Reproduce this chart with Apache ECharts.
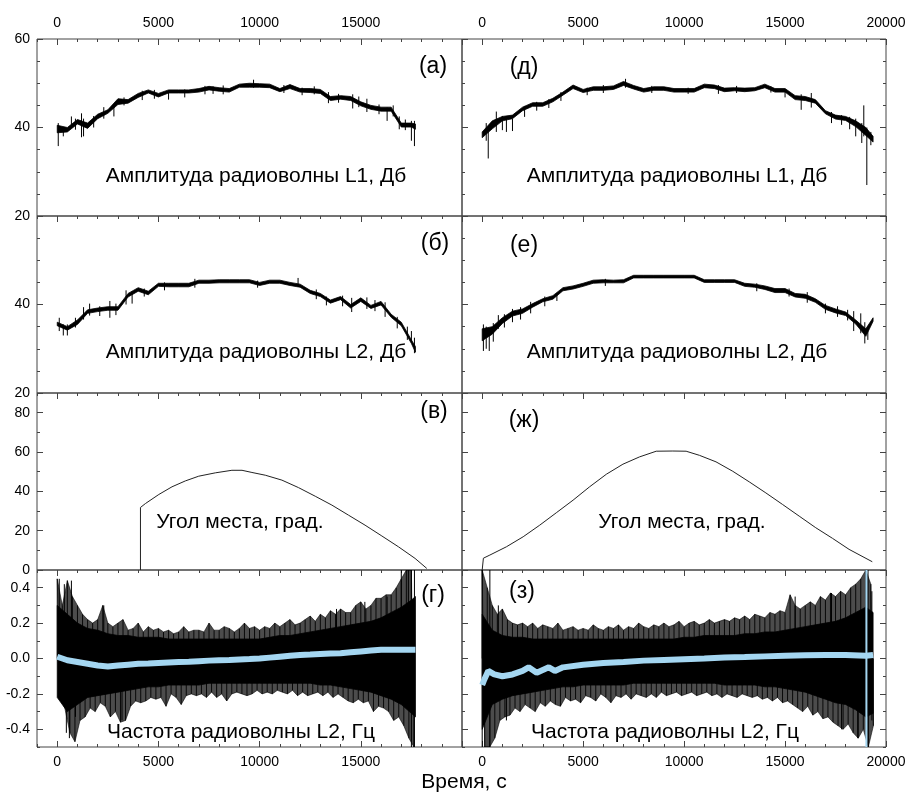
<!DOCTYPE html>
<html>
<head>
<meta charset="utf-8">
<script src="https://cdn.jsdelivr.net/npm/echarts@6/dist/echarts.min.js"></script>
<style>
  html, body { margin: 0; background: #fff; }
  #chart { width: 909px; height: 794px; }
</style>
</head>
<body>
<div id="chart"></div>
<script>
// time samples (s)
const tL = [0, 500, 1000, 1500, 2000, 2500, 3000, 3500, 4000, 4500, 5000, 5500, 6000, 6500, 7000, 7500, 8000, 8500,
  9000, 9500, 10000, 10500, 11000, 11500, 12000, 12500, 13000, 13500, 14000, 14500, 15000, 15500, 16000, 16500,
  17000, 17500, 17700];
const tR = [0, 500, 1000, 1500, 2000, 2500, 3000, 3500, 4000, 4500, 5000, 5500, 6000, 6500, 7000, 7500, 8000, 8500,
  9000, 9500, 10000, 10500, 11000, 11500, 12000, 12500, 13000, 13500, 14000, 14500, 15000, 15500, 16000, 16500,
  17000, 17500, 18000, 18500, 19000, 19360];
// finer samples for the noise of the frequency panels
const tNoiseL = [0, 250, 500, 750, 1000, 1250, 1500, 1750, 2000, 2250, 2500, 2750, 3000, 3250, 3500, 3750, 4000, 4250,
  4500, 4750, 5000, 5250, 5500, 5750, 6000, 6250, 6500, 6750, 7000, 7250, 7500, 7750, 8000, 8250, 8500, 8750, 9000,
  9250, 9500, 9750, 10000, 10250, 10500, 10750, 11000, 11250, 11500, 11750, 12000, 12250, 12500, 12750, 13000, 13250,
  13500, 13750, 14000, 14250, 14500, 14750, 15000, 15250, 15500, 15750, 16000, 16250, 16500, 16750, 17000, 17250, 17500];
const tNoiseR = tNoiseL.concat([17750, 18000, 18250, 18500, 18750, 19000, 19250]);

// (а) amplitude L1, left
const ampAHi = [40.5, 40, 41.8, 41, 43, 44, 46.5, 46.3, 47.7, 48.5, 47.7, 48.5, 48.5, 48.5, 48.8, 49.3, 49, 48.8, 49.8, 50,
  49.9, 49.8, 48.8, 49.7, 48.8, 48.8, 48.6, 47, 47.2, 47, 45.8, 45, 44.6, 44.6, 41, 41, 40.8];
const ampALo = [38.8, 39, 40.8, 39.8, 42, 43.2, 45.2, 45.5, 46.8, 47.8, 46.9, 47.8, 47.8, 47.8, 48, 48.5, 48.2, 48, 49.1, 49.1,
  49.1, 49, 48.1, 48.8, 48, 47.9, 47.7, 46.1, 46.4, 46.1, 44.9, 44.1, 43.7, 43.7, 40.1, 40.1, 39.6];
const spikesA = [[50, 35.8, 41], [300, 38, 40], [700, 40, 42.5], [900, 39.5, 42], [1200, 37.8, 43.2], [1300, 38, 42],
  [1800, 40, 42.6], [2300, 42, 44.6], [2800, 42.5, 45], [3300, 45, 46.8], [4200, 46.2, 48.3], [4800, 46.5, 48.5],
  [5500, 46.3, 48], [6300, 46.8, 48.6], [7300, 47.5, 49.4], [7700, 47.6, 49.3], [8200, 47.5, 49.5], [9700, 49, 50.8],
  [11200, 47.8, 49.6], [12100, 47.3, 49], [12700, 47.5, 49.3], [13400, 45.5, 48], [13900, 45.6, 47.6],
  [14600, 44.3, 47.5], [14900, 44.6, 47], [15300, 43.5, 46.5], [15900, 43, 45.2], [16300, 41.5, 44.5],
  [16600, 42.5, 45], [16900, 39.6, 42.5], [17200, 39.4, 41.8], [17500, 37, 41.5], [17650, 35.8, 41.5]];

// (б) amplitude L2, left
const ampBHi = [36, 35, 36.5, 38.8, 39.2, 39.5, 39.5, 42.5, 43.8, 43, 44.8, 44.8, 44.8, 44.8, 45.5, 45.5, 45.6, 45.6, 45.6, 45.6,
  45, 45.5, 45.5, 45, 44.6, 43.2, 42.5, 41, 41.8, 40, 41.5, 39.8, 40.7, 37.8, 36, 32, 30.5];
const ampBLo = [35.2, 34.2, 35.5, 38, 38.4, 38.7, 38.7, 41.7, 43, 42.2, 44.1, 44, 44, 44, 44.8, 44.8, 44.9, 44.9, 44.9, 44.9,
  44.3, 44.8, 44.8, 44.3, 43.9, 42.5, 41.8, 40.3, 41.1, 39.2, 40.7, 39.1, 39.9, 37.1, 35.2, 31.2, 29.2];
const spikesB = [[100, 34, 37], [300, 33, 35.5], [500, 33, 35.5], [900, 34.8, 37], [1300, 36.6, 39.4], [1600, 37.5, 40.2],
  [2100, 37.4, 39.6], [2600, 37, 40.8], [2900, 37.6, 40.2], [3400, 40, 43.2], [3700, 40.2, 43], [4300, 41.8, 43.6],
  [5300, 43.2, 45], [6800, 43.8, 45.8], [9900, 43.8, 45.4], [11900, 44, 46], [12800, 41.2, 43.4], [13300, 39.8, 41.8],
  [14100, 39.6, 42], [14550, 38.3, 41.5], [15300, 39, 41.6], [15700, 38.5, 41], [16200, 37.2, 40.5], [16800, 34.6, 37.2],
  [17300, 32, 35], [17500, 31.5, 34], [17650, 29, 32.5]];

// (в) elevation, left
const elevVT = [4112, 4112, 4360, 5020, 5670, 6330, 6990, 7810, 8630, 9130, 9620, 10280, 11100, 11920, 12750, 13570,
  14390, 15210, 16040, 16860, 17680, 18260];
const elevV = [0, 31.8, 33.8, 38.4, 42.3, 45.3, 47.7, 49.4, 50.7, 50.7, 49.6, 48.2, 45.7, 41.9, 37.5, 33, 27.9, 22.8,
  17.3, 11.8, 5.9, 0.8];

// (г) frequency L2, left
const freqGHi = [0.3, 0.25, 0.2, 0.17, 0.16, 0.14, 0.13, 0.13, 0.12, 0.12, 0.12, 0.11, 0.11, 0.11, 0.11, 0.11, 0.11, 0.11,
  0.11, 0.11, 0.11, 0.12, 0.13, 0.13, 0.14, 0.15, 0.16, 0.17, 0.18, 0.19, 0.2, 0.21, 0.23, 0.26, 0.29, 0.33, 0.35];
const freqGLo = [-0.22, -0.3, -0.26, -0.22, -0.21, -0.2, -0.19, -0.18, -0.17, -0.16, -0.16, -0.15, -0.15, -0.15, -0.15,
  -0.14, -0.14, -0.14, -0.14, -0.14, -0.14, -0.14, -0.14, -0.14, -0.14, -0.14, -0.15, -0.15, -0.16, -0.17, -0.18, -0.19,
  -0.21, -0.23, -0.26, -0.31, -0.33];
const freqGUp = [0.45, 0.3, 0.44, 0.35, 0.3, 0.25, 0.22, 0.2, 0.22, 0.3, 0.2, 0.18, 0.2, 0.22, 0.16, 0.17, 0.2, 0.15, 0.18,
  0.16, 0.17, 0.15, 0.16, 0.14, 0.15, 0.18, 0.15, 0.16, 0.16, 0.15, 0.2, 0.16, 0.16, 0.18, 0.17, 0.15, 0.17, 0.2, 0.17,
  0.18, 0.16, 0.18, 0.17, 0.2, 0.18, 0.2, 0.22, 0.19, 0.2, 0.22, 0.24, 0.21, 0.25, 0.23, 0.27, 0.25, 0.28, 0.26, 0.26,
  0.3, 0.32, 0.28, 0.3, 0.34, 0.34, 0.36, 0.36, 0.4, 0.45, 0.5, 0.5];
const freqGDn = [-0.22, -0.28, -0.42, -0.47, -0.35, -0.33, -0.28, -0.3, -0.25, -0.27, -0.33, -0.3, -0.36, -0.35, -0.27,
  -0.24, -0.25, -0.24, -0.22, -0.23, -0.22, -0.27, -0.2, -0.22, -0.26, -0.21, -0.2, -0.21, -0.2, -0.22, -0.19, -0.22,
  -0.2, -0.24, -0.2, -0.19, -0.2, -0.21, -0.2, -0.18, -0.2, -0.19, -0.2, -0.18, -0.19, -0.2, -0.18, -0.21, -0.19, -0.21,
  -0.2, -0.19, -0.21, -0.19, -0.22, -0.2, -0.22, -0.24, -0.25, -0.23, -0.25, -0.24, -0.3, -0.27, -0.28, -0.3, -0.35,
  -0.33, -0.38, -0.45, -0.5];
const freqGMean = [0.01, -0.01, -0.02, -0.03, -0.04, -0.045, -0.04, -0.035, -0.03, -0.028, -0.025, -0.022, -0.02, -0.018,
  -0.015, -0.012, -0.01, -0.008, -0.005, -0.003, 0, 0.005, 0.01, 0.015, 0.02, 0.022, 0.025, 0.028, 0.03, 0.035, 0.04,
  0.045, 0.05, 0.05, 0.05, 0.05, 0.05];
const spikesG = [[100, 0, 0.45], [350, 0, 0.42], [700, 0, 0.44], [600, -0.45, 0], [450, -0.42, 0], [900, -0.33, 0],
  [2300, 0, 0.3], [3200, -0.35, 0], [13800, 0, 0.28], [15200, 0, 0.32], [16300, 0, 0.35], [17000, 0, 0.5],
  [17350, 0, 0.5], [17500, -0.5, 0.5], [17650, -0.5, 0.5]];

// (д) amplitude L1, right
const ampDHi = [39, 41.5, 42.5, 42.8, 44.6, 45.6, 45.6, 46.6, 48, 49.6, 48.6, 49.2, 49.2, 49.4, 50.4, 49.5, 48.8, 49.2, 49.2, 48.8,
  48.8, 48.8, 49.8, 49.6, 48.9, 49, 48.9, 49, 49.8, 48.8, 48.8, 47.2, 47, 46.3, 43.8, 42.8, 42.5, 41.5, 40, 38];
const ampDLo = [37.7, 39.7, 41.5, 42, 43.8, 44.8, 44.8, 45.8, 47.3, 48.8, 47.9, 48.4, 48.4, 48.6, 49.5, 48.7, 48, 48.4, 48.4,
  48, 48, 48, 49, 48.8, 48.1, 48.3, 48.1, 48.3, 49, 48, 48, 46.3, 46.1, 45.5, 43.1, 41.9, 41.6, 40.2, 38.2, 36.7];
const spikesD = [[300, 33, 39], [200, 37, 41], [700, 39, 43.6], [1000, 39.4, 42.6], [1200, 39, 42], [1500, 39.2, 42],
  [2100, 42.4, 44.8], [2700, 43.8, 45.8], [3300, 44.4, 46.4], [3900, 46, 48], [5200, 47.3, 49], [6000, 47.8, 49.6],
  [7100, 49, 51], [8400, 47.8, 49.4], [10200, 47.6, 49], [11700, 47.6, 49.6], [12600, 47.8, 49.4], [14300, 47.9, 49.3],
  [15000, 46.8, 48.6], [15800, 44, 47.5], [16300, 44.5, 47.8], [17300, 41, 43.5], [17800, 40.6, 42.8],
  [18200, 39.6, 42.4], [18500, 38, 42], [18800, 36.5, 41], [18900, 38, 45], [19050, 27, 40], [19250, 36, 39]];

// (е) amplitude L2, right
const ampEHi = [34.5, 35, 37, 38.5, 39, 40.2, 41.3, 42, 43.8, 44.2, 44.8, 45.5, 45.6, 45.5, 45.6, 46.6, 46.6, 46.6, 46.6, 46.6,
  46.6, 46.6, 45.6, 45.6, 45.6, 45.6, 44.8, 44.6, 44.2, 43.6, 43.6, 42.5, 42.3, 41.3, 39.8, 39, 38.3, 36.5, 34.5, 37];
const ampELo = [31.8, 33.3, 35.7, 37.4, 38, 39.4, 40.6, 41.2, 43.1, 43.5, 44.1, 44.8, 44.9, 44.9, 44.9, 46, 46, 46, 46, 46,
  46, 46, 45, 45, 45, 45, 44.1, 43.9, 43.4, 42.7, 42.7, 41.7, 41.4, 40.5, 38.9, 38.1, 37.5, 35.6, 32.8, 36.2];
const spikesE = [[60, 29.5, 35.5], [200, 30, 35], [350, 29.5, 34.5], [550, 31.6, 35.8], [800, 34.5, 37.6],
  [1100, 34.8, 37.8], [1500, 36, 39], [1900, 36.6, 39.4], [2400, 38, 40.6], [3100, 39.6, 41.8], [3700, 40.8, 42.6],
  [6100, 44.2, 45.8], [13600, 43, 44.8], [15200, 41.8, 43.6], [16100, 40.4, 42.8], [17000, 38, 40.2],
  [17600, 37.2, 39.6], [18100, 36.4, 38.8], [18400, 34, 38.5], [18750, 33.5, 38], [18950, 31.2, 36], [19100, 32, 35]];

// (ж) elevation, right
const elevZT = [0, 60, 380, 1200, 2030, 2850, 3670, 4500, 5320, 6150, 6970, 7790, 8620, 9440, 10100, 10760, 11580,
  12410, 13230, 14050, 14880, 15700, 16520, 17350, 18170, 19320];
const elevZ = [0, 6, 7.6, 11.8, 16.9, 22.8, 29.1, 35.5, 42.3, 48.7, 53.8, 57.5, 60.4, 60.5, 60.4, 58.3, 55, 50.2, 44.8,
  39.2, 33.3, 27.4, 21.5, 16.1, 10.5, 4.2];

// (з) frequency L2, right
const freqZHi = [0.25, 0.16, 0.13, 0.12, 0.12, 0.11, 0.11, 0.11, 0.11, 0.11, 0.11, 0.11, 0.11, 0.11, 0.11, 0.11, 0.11, 0.11,
  0.11, 0.11, 0.12, 0.12, 0.13, 0.13, 0.13, 0.13, 0.14, 0.14, 0.15, 0.15, 0.16, 0.17, 0.18, 0.19, 0.2, 0.21, 0.23, 0.26,
  0.29, 0.26];
const freqZLo = [-0.4, -0.26, -0.23, -0.21, -0.2, -0.19, -0.18, -0.17, -0.16, -0.16, -0.15, -0.15, -0.15, -0.15, -0.15,
  -0.14, -0.14, -0.14, -0.14, -0.14, -0.14, -0.14, -0.14, -0.14, -0.15, -0.15, -0.15, -0.15, -0.16, -0.16, -0.17, -0.18,
  -0.19, -0.21, -0.23, -0.25, -0.26, -0.29, -0.33, -0.31];
const freqZUp = [0.5, 0.4, 0.3, 0.25, 0.28, 0.22, 0.2, 0.19, 0.2, 0.18, 0.2, 0.17, 0.19, 0.18, 0.17, 0.2, 0.16, 0.17, 0.18,
  0.16, 0.17, 0.16, 0.19, 0.17, 0.16, 0.18, 0.17, 0.19, 0.16, 0.18, 0.17, 0.2, 0.18, 0.17, 0.19, 0.18, 0.2, 0.18, 0.19,
  0.21, 0.18, 0.2, 0.21, 0.19, 0.2, 0.22, 0.2, 0.21, 0.22, 0.21, 0.23, 0.22, 0.24, 0.22, 0.25, 0.24, 0.23, 0.26, 0.25,
  0.27, 0.26, 0.36, 0.3, 0.28, 0.3, 0.32, 0.3, 0.35, 0.33, 0.37, 0.35, 0.38, 0.36, 0.4, 0.42, 0.45, 0.5, 0.42];
const freqZDn = [-0.5, -0.5, -0.45, -0.35, -0.33, -0.32, -0.28, -0.3, -0.26, -0.28, -0.3, -0.25, -0.27, -0.24, -0.26,
  -0.27, -0.22, -0.24, -0.23, -0.25, -0.21, -0.22, -0.24, -0.2, -0.22, -0.25, -0.21, -0.22, -0.2, -0.23, -0.2, -0.21,
  -0.22, -0.2, -0.22, -0.19, -0.21, -0.2, -0.19, -0.21, -0.2, -0.19, -0.21, -0.2, -0.19, -0.21, -0.2, -0.22, -0.2,
  -0.21, -0.22, -0.2, -0.21, -0.22, -0.21, -0.23, -0.22, -0.24, -0.22, -0.25, -0.24, -0.26, -0.28, -0.3, -0.27, -0.32,
  -0.3, -0.34, -0.33, -0.36, -0.38, -0.4, -0.37, -0.42, -0.45, -0.4, -0.5, -0.38];
const freqZMeanT = [0, 100, 300, 600, 1000, 1500, 2000, 2300, 2700, 3300, 3600, 4000, 5000, 6000, 7000, 8000, 9000,
  10000, 11000, 12000, 13000, 14000, 15000, 16000, 17000, 18000, 19000, 19360];
const freqZMean = [-0.15, -0.12, -0.07, -0.09, -0.1, -0.09, -0.07, -0.05, -0.08, -0.05, -0.07, -0.05, -0.035, -0.025,
  -0.02, -0.012, -0.008, -0.004, 0, 0.005, 0.008, 0.012, 0.015, 0.018, 0.02, 0.02, 0.015, 0.02];
const spikesZ = [[0, -0.5, 0.5], [380, -0.5, 0.5], [800, 0, 0.3], [1200, -0.35, 0], [15500, 0, 0.35], [17300, 0, 0.37],
  [17800, -0.4, 0], [18600, -0.45, 0], [19110, -0.5, 0.5], [19300, -0.35, 0.38]];
const spikesZBlue = [[19030, -0.5, 0.5]];

// tick labels
const xLabelsL = [0, 5000, 10000, 15000];
const xLabelsR = [0, 5000, 10000, 15000, 20000];
const yLabelsAmpTop = [20, 40, 60];
const yLabelsAmp = [20, 40];
const yLabelsElev = [0, 20, 40, 60, 80];
const yLabelsFreq = [-0.4, -0.2, 0, 0.2, 0.4];

const FONT = "'Liberation Sans', Arial, sans-serif";
const FRAME = '#444';
const INK = '#000';
const BLUE = '#a4d6f1';

const rows = [
  { min: 20, max: 60, minor: 5, major: [20, 40, 60], labels: yLabelsAmpTop, fmt: (v) => String(v) },
  { min: 20, max: 60, minor: 5, major: [20, 40, 60], labels: yLabelsAmp, fmt: (v) => String(v) },
  { min: 0, max: 90, minor: 10, major: [0, 20, 40, 60, 80], labels: yLabelsElev, fmt: (v) => String(v) },
  { min: -0.5, max: 0.5, minor: 0.1, major: [-0.4, -0.2, 0, 0.2, 0.4], labels: yLabelsFreq, fmt: (v) => v.toFixed(1) },
];
const rowTop = [39, 216, 393, 570];
const colLeft = [37, 462];
const colWidth = [425, 424];

const grid = [], xAxis = [], yAxis = [], panel = [];
const tickStyle = { color: FRAME, width: 1 };
const labelStyle = { color: INK, fontSize: 14, fontFamily: FONT };
const noLine = { show: false, onZero: false };

function addX(g, pos, labels, major) {
  xAxis.push({
    gridIndex: g, type: 'value', position: pos, min: -1000, max: 20000, interval: 1000,
    axisLine: noLine, splitLine: { show: false },
    axisTick: { inside: true, length: 3, lineStyle: tickStyle },
    axisLabel: labels
      ? { customValues: labels, formatter: (v) => String(v), margin: pos === 'top' ? 9 : 8, ...labelStyle }
      : { show: false },
  });
  const idx = xAxis.length - 1;
  xAxis.push({
    gridIndex: g, type: 'value', position: pos, min: -1000, max: 20000,
    axisLine: noLine, splitLine: { show: false },
    axisTick: { inside: true, length: 6, customValues: major, lineStyle: tickStyle },
    axisLabel: { show: false },
  });
  return idx;
}

function addY(g, pos, r, withLabels) {
  yAxis.push({
    gridIndex: g, type: 'value', position: pos, min: r.min, max: r.max, interval: r.minor,
    axisLine: noLine, splitLine: { show: false },
    axisTick: { inside: true, length: 3, lineStyle: tickStyle },
    axisLabel: withLabels ? { customValues: r.labels, formatter: r.fmt, margin: 7, ...labelStyle } : { show: false },
  });
  const idx = yAxis.length - 1;
  yAxis.push({
    gridIndex: g, type: 'value', position: pos, min: r.min, max: r.max,
    axisLine: noLine, splitLine: { show: false },
    axisTick: { inside: true, length: 6, customValues: r.major, lineStyle: tickStyle },
    axisLabel: { show: false },
  });
  return idx;
}

for (let row = 0; row < 4; row++) {
  for (let col = 0; col < 2; col++) {
    const g = grid.length;
    grid.push({
      left: colLeft[col], top: rowTop[row], width: colWidth[col], height: 177,
      show: true, borderColor: FRAME, borderWidth: 1, backgroundColor: 'transparent',
    });
    const xl = col === 0 ? xLabelsL : xLabelsR;
    const xi = addX(g, 'top', row === 0 ? xl : null, xLabelsR);
    if (row === 3) addX(g, 'bottom', xl, xLabelsR);
    const yi = addY(g, 'left', rows[row], col === 0);
    if (col === 1) addY(g, 'right', rows[row], false);
    panel.push({ x: xi, y: yi });
  }
}

// filled polygon between an upper and a lower curve; tLo defaults to the upper curve's times
function band(g, t, hi, lo, color, opacity, tLo) {
  const t2 = tLo || t;
  return {
    type: 'custom', xAxisIndex: panel[g].x, yAxisIndex: panel[g].y, silent: true, clip: true,
    data: [[t[0], lo[0]]],
    renderItem: (params, api) => ({
      type: 'polygon',
      shape: {
        points: t.map((x, i) => api.coord([x, hi[i]]))
          .concat(t2.map((x, i) => api.coord([x, lo[i]])).reverse()),
      },
      style: { fill: color, stroke: color, lineWidth: 0.8, opacity: opacity || 1 },
    }),
  };
}

function spikes(g, list, color, w) {
  return {
    type: 'custom', xAxisIndex: panel[g].x, yAxisIndex: panel[g].y, silent: true, clip: true,
    data: list, encode: { x: 0, y: [1, 2] },
    renderItem: (params, api) => {
      const a = api.coord([api.value(0), api.value(1)]);
      const b = api.coord([api.value(0), api.value(2)]);
      return { type: 'line', shape: { x1: a[0], y1: a[1], x2: b[0], y2: b[1] }, style: { stroke: color, lineWidth: w } };
    },
  };
}

// dense noise: dark fringe polygon through the peaks plus vertical strokes to each peak
function noise(g, t, up, dn) {
  const tDn = t.map((x) => x + 125);
  return [
    band(g, t, up, dn, INK, 0.7, tDn),
    spikes(g, t.map((x, i) => [x, 0, up[i]]).concat(tDn.map((x, i) => [x, dn[i], 0])), INK, 0.9),
  ];
}

function line(g, t, v, color, w) {
  return {
    type: 'line', xAxisIndex: panel[g].x, yAxisIndex: panel[g].y, silent: true,
    data: t.map((x, i) => [x, v[i]]), showSymbol: false,
    lineStyle: { color, width: w },
  };
}

const series = [
  band(0, tL, ampAHi, ampALo, INK), spikes(0, spikesA, INK, 1),
  band(1, tR, ampDHi, ampDLo, INK), spikes(1, spikesD, INK, 1),
  band(2, tL, ampBHi, ampBLo, INK), spikes(2, spikesB, INK, 1),
  band(3, tR, ampEHi, ampELo, INK), spikes(3, spikesE, INK, 1),
  line(4, elevVT, elevV, '#222', 1),
  line(5, elevZT, elevZ, '#222', 1),
  ...noise(6, tNoiseL, freqGUp, freqGDn), band(6, tL, freqGHi, freqGLo, INK), spikes(6, spikesG, INK, 1),
  line(6, tL, freqGMean, BLUE, 6),
  ...noise(7, tNoiseR, freqZUp, freqZDn), band(7, tR, freqZHi, freqZLo, INK), spikes(7, spikesZ, INK, 1),
  line(7, freqZMeanT, freqZMean, BLUE, 6),
  spikes(7, spikesZBlue, BLUE, 2),
];

const textStyle = (size) => ({ fill: INK, font: `${size}px ${FONT}`, textAlign: 'center', textVerticalAlign: 'middle' });
const texts = [
  ['(а)', 433, 67, 23], ['(д)', 524, 68, 23],
  ['(б)', 435, 244, 23], ['(е)', 524, 246, 23],
  ['(в)', 434, 412, 23], ['(ж)', 524, 421, 23],
  ['(г)', 433, 596, 23], ['(з)', 522, 592, 23],
  ['Амплитуда радиоволны L1, Дб', 256, 176, 21], ['Амплитуда радиоволны L1, Дб', 677, 176, 21],
  ['Амплитуда радиоволны L2, Дб', 256, 352, 21], ['Амплитуда радиоволны L2, Дб', 677, 352, 21],
  ['Угол места, град.', 240, 522, 21], ['Угол места, град.', 682, 522, 21],
  ['Частота радиоволны L2, Гц', 241, 732, 21], ['Частота радиоволны L2, Гц', 665, 732, 21],
  ['Время, с', 464, 782, 21],
];

const chart = echarts.init(document.getElementById('chart'));
chart.setOption({
  animation: false,
  backgroundColor: '#fff',
  grid, xAxis, yAxis, series,
  graphic: texts.map(([text, x, y, size]) => ({ type: 'text', x, y, silent: true, z: 100, style: { text, ...textStyle(size) } })),
});
</script>
</body>
</html>
